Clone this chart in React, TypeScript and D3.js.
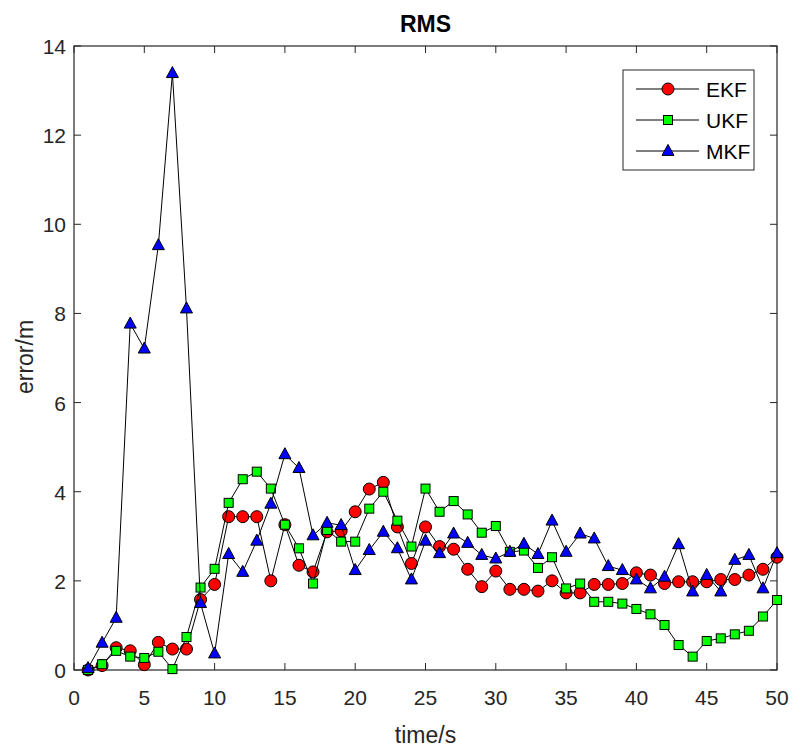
import React from "react";
import * as d3 from "d3";

const times = d3.range(1, 51);
const ekf = [0, 0.1, 0.5, 0.43, 0.12, 0.62, 0.47, 0.47, 1.58, 1.92, 3.44, 3.44, 3.44, 2.0, 3.26, 2.35, 2.2, 3.1, 3.12, 3.55, 4.06, 4.21, 3.21, 2.39, 3.21, 2.77, 2.71, 2.26, 1.87, 2.22, 1.81, 1.81, 1.77, 2.0, 1.73, 1.73, 1.92, 1.92, 1.94, 2.18, 2.13, 1.94, 1.98, 1.98, 1.98, 2.03, 2.03, 2.13, 2.26, 2.53];
const ukf = [0, 0.13, 0.43, 0.3, 0.27, 0.41, 0.02, 0.74, 1.85, 2.27, 3.75, 4.28, 4.45, 4.07, 3.26, 2.73, 1.94, 3.14, 2.88, 2.88, 3.62, 4.0, 3.35, 2.77, 4.07, 3.55, 3.79, 3.49, 3.08, 3.23, 2.65, 2.68, 2.29, 2.53, 1.83, 1.94, 1.53, 1.53, 1.49, 1.37, 1.25, 1.01, 0.56, 0.3, 0.65, 0.71, 0.8, 0.88, 1.2, 1.57];
const mkf = [0.04, 0.61, 1.17, 7.77, 7.21, 9.53, 13.39, 8.11, 1.5, 0.37, 2.6, 2.2, 2.9, 3.73, 4.84, 4.53, 3.02, 3.3, 3.25, 2.24, 2.69, 3.1, 2.73, 2.03, 2.9, 2.62, 3.06, 2.85, 2.58, 2.5, 2.65, 2.83, 2.6, 3.35, 2.65, 3.06, 2.95, 2.33, 2.24, 2.03, 1.83, 2.09, 2.82, 1.76, 2.13, 1.76, 2.47, 2.58, 1.83, 2.62];

const xTicks = [0, 5, 10, 15, 20, 25, 30, 35, 40, 45, 50];
const yTicks = [0, 2, 4, 6, 8, 10, 12, 14];
const seriesNames = ["EKF", "UKF", "MKF"];

const L = 74, R = 777, T = 46, B = 670;
const FONT = "'Liberation Sans', Arial, Helvetica, sans-serif";
const AX = "#262626";

type Kind = "circle" | "square" | "triangle";

function Marker({ kind, x, y }: { kind: Kind; x: number; y: number }) {
  if (kind === "circle")
    return <circle cx={x} cy={y} r={6} fill="#ff0000" stroke="#000" strokeWidth={1} />;
  if (kind === "square")
    return <rect x={x - 4.5} y={y - 4.5} width={9} height={9} fill="#00ff00" stroke="#000" strokeWidth={1} />;
  const h = 11, w = 12;
  return (
    <path
      d={`M${x},${y - h * 0.6} L${x + w / 2},${y + h * 0.4} L${x - w / 2},${y + h * 0.4} Z`}
      fill="#0000ff"
      stroke="#000"
      strokeWidth={1}
    />
  );
}

export default function App() {
  const x = d3.scaleLinear().domain([0, 50]).range([L, R]);
  const y = d3.scaleLinear().domain([0, 14]).range([B, T]);
  const line = d3
    .line<number>()
    .x((_, i) => x(times[i]))
    .y((d) => y(d));

  const series: { name: string; data: number[]; kind: Kind }[] = [
    { name: seriesNames[0], data: ekf, kind: "circle" },
    { name: seriesNames[1], data: ukf, kind: "square" },
    { name: seriesNames[2], data: mkf, kind: "triangle" },
  ];

  const tickLen = 7;

  return (
    <svg width={793} height={748} style={{ display: "block", position: "absolute", left: 0, top: 0 }} fontFamily={FONT}>
      <rect width={793} height={748} fill="#fff" />
      <text x={(L + R) / 2} y={32} textAnchor="middle" fontSize={23} fontWeight="bold" fill="#000">
        RMS
      </text>
      {xTicks.map((t) => (
        <g key={"x" + t}>
          <line x1={x(t)} x2={x(t)} y1={B} y2={B - tickLen} stroke={AX} />
          <line x1={x(t)} x2={x(t)} y1={T} y2={T + tickLen} stroke={AX} />
          <text x={x(t)} y={705} textAnchor="middle" fontSize={21} fill={AX}>
            {t}
          </text>
        </g>
      ))}
      {yTicks.map((t) => (
        <g key={"y" + t}>
          <line x1={L} x2={L + tickLen} y1={y(t)} y2={y(t)} stroke={AX} />
          <line x1={R} x2={R - tickLen} y1={y(t)} y2={y(t)} stroke={AX} />
          <text x={L - 8} y={y(t) + 8} textAnchor="end" fontSize={21} fill={AX}>
            {t}
          </text>
        </g>
      ))}
      <rect x={L} y={T} width={R - L} height={B - T} fill="none" stroke={AX} strokeWidth={1.2} />
      <text x={(L + R) / 2} y={743} textAnchor="middle" fontSize={23} fill={AX}>
        time/s
      </text>
      <text transform={`translate(33,357) rotate(-90)`} textAnchor="middle" fontSize={23} fill={AX}>
        error/m
      </text>
      {series.map((s) => (
        <g key={s.name}>
          <path d={line(s.data) || ""} fill="none" stroke="#000" strokeWidth={1} />
          {s.data.map((v, i) => (
            <Marker key={i} kind={s.kind} x={x(times[i])} y={y(v)} />
          ))}
        </g>
      ))}
      <rect x={623} y={70} width={131} height={100} fill="#fff" stroke={AX} strokeWidth={1} />
      {series.map((s, i) => {
        const ly = 89 + i * 31;
        return (
          <g key={"lg" + s.name}>
            <line x1={636} x2={699} y1={ly} y2={ly} stroke="#000" />
            <Marker kind={s.kind} x={668} y={ly} />
            <text x={706} y={ly + 8} fontSize={21} fill="#000">
              {s.name}
            </text>
          </g>
        );
      })}
    </svg>
  );
}
